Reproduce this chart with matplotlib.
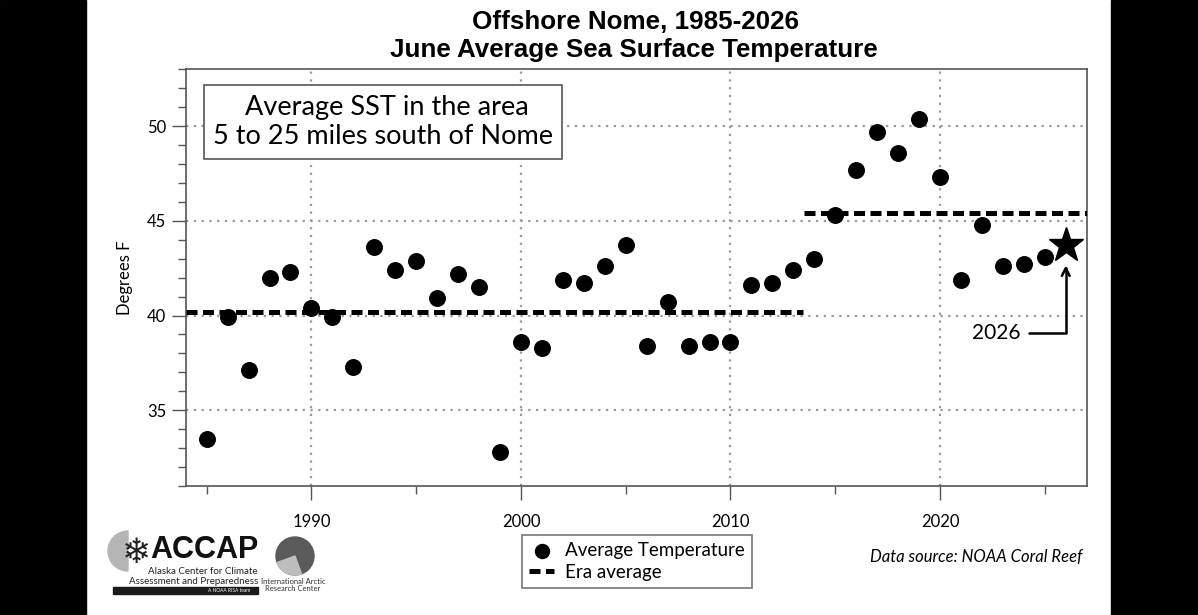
import matplotlib
matplotlib.use("Agg")
import matplotlib.pyplot as plt
from matplotlib.patches import Rectangle, Circle, Wedge
from matplotlib.transforms import IdentityTransform
from matplotlib.ticker import MultipleLocator

# June average SST offshore Nome (deg F)
years = list(range(1985, 2026))
sst = [33.5, 39.9, 37.1, 42.0, 42.3, 40.4, 39.9, 37.3, 43.6, 42.4,
       42.9, 40.9, 42.2, 41.5, 32.8, 38.6, 38.3, 41.9, 41.7, 42.6,
       43.7, 38.4, 40.7, 38.4, 38.6, 38.6, 41.6, 41.7, 42.4, 43.0,
       45.3, 47.7, 49.7, 48.6, 50.4, 47.3, 41.9, 44.8, 42.6, 42.7,
       43.1]
year_2026 = 2026
sst_2026 = 43.7

# era averages (start, end, mean)
era_start = [1984, 2013.5]
era_end = [2013.45, 2027]
era_mean = [40.18, 45.40]

W, H = 1198, 615
fig = plt.figure(figsize=(W / 100, H / 100), dpi=100)
ax = fig.add_axes([185.7 / W, 1 - 486 / H, (1086.7 - 185.7) / W, (486 - 69.3) / H])

body = "Lato"

ax.scatter(years, sst, s=125, color="black", zorder=4, label="Average Temperature")
for i, (x0, x1, m) in enumerate(zip(era_start, era_end, era_mean)):
    ax.plot([x0, x1], [m, m], color="black", lw=3.6, dashes=(2.2, 1.1), zorder=3,
            solid_capstyle="butt", dash_capstyle="butt",
            label="Era average" if i == 0 else None)
ax.plot([year_2026], [sst_2026], marker="*", ms=26, color="black", zorder=5, clip_on=False)

ax.annotate("2026", xy=(year_2026, sst_2026 - 1.05), xytext=(2023.85, 39.1),
            ha="right", va="center", fontsize=15, family=body,
            arrowprops=dict(arrowstyle="->", color="black", lw=1.8, shrinkA=4, shrinkB=0,
                            connectionstyle="angle,angleA=0,angleB=90,rad=0",
                            mutation_scale=14))

ax.set_xlim(1984, 2027)
ax.set_ylim(31, 53)
ax.xaxis.set_major_locator(MultipleLocator(10))
ax.xaxis.set_minor_locator(MultipleLocator(5))
ax.yaxis.set_major_locator(MultipleLocator(5))
ax.yaxis.set_minor_locator(MultipleLocator(1))
ax.tick_params(which="major", length=10, width=1, color="#555555", labelsize=12, pad=4)
ax.tick_params(which="minor", length=6, width=1, color="#555555")
ax.tick_params(axis="x", pad=10)
for lab in ax.get_xticklabels() + ax.get_yticklabels():
    lab.set_family(body)
ax.grid(which="major", color="#999999", ls=(0, (1, 2.5)), lw=1.6, zorder=0)
for s in ax.spines.values():
    s.set_color("#555555")
    s.set_linewidth(1.2)

ax.set_ylabel("Degrees F", fontsize=12, family=body, labelpad=10)

# description box
ax.text(383 / W, 1 - 122 / H, " Average SST in the area\n5 to 25 miles south of Nome",
        transform=fig.transFigure, ha="center", va="center", fontsize=19.5, family=body,
        linespacing=1.25, zorder=6,
        bbox=dict(boxstyle="square,pad=0.35", fc="white", ec="#555555", lw=1.2))

# titles
fig.text(636 / W, 1 - 22 / H, "Offshore Nome, 1985-2026", ha="center", va="center",
         fontsize=18.7, weight="bold", family="Liberation Sans")
fig.text(634 / W, 1 - 50 / H, "June Average Sea Surface Temperature", ha="center", va="center",
         fontsize=18.7, weight="bold", family="Liberation Sans")

leg = fig.legend(loc="center", bbox_to_anchor=(637 / W, 1 - 561.5 / H),
                 prop={"family": body, "size": 13.5}, frameon=True, fancybox=False,
                 handlelength=1.3, handletextpad=0.6, borderpad=0.4, labelspacing=0.25,
                 markerscale=0.9)
leg.get_frame().set_edgecolor("#555555")
leg.get_frame().set_linewidth(1.2)

fig.text(976 / W, 1 - 557 / H, "Data source: NOAA Coral Reef", ha="center", va="center",
         fontsize=12, style="italic", family=body)

# ACCAP / IARC logos, drawn roughly (pixel coordinates, origin bottom-left)
px = IdentityTransform()
fig.patches.append(Wedge((128, H - 551), 20, 90, 270, color="#b5b5b5",
                         transform=px, figure=fig))
fig.text(136 / W, 1 - 553 / H, "\u2744", ha="center", va="center", fontsize=25,
         color="#222222", family="DejaVu Sans")
fig.text(204 / W, 1 - 550 / H, "ACCAP", ha="center", va="center", fontsize=22,
         weight="bold", family="Liberation Sans", color="#111111")
fig.text(258 / W, 1 - 571 / H, "Alaska Center for Climate", ha="right", va="center",
         fontsize=7, family=body, color="#222222")
fig.text(258 / W, 1 - 581 / H, "Assessment and Preparedness", ha="right", va="center",
         fontsize=7, family=body, color="#222222")
fig.patches.append(Rectangle((113, H - 594), 145, 7, color="#1a1a1a",
                             transform=px, figure=fig))
fig.text(250 / W, 1 - 590.5 / H, "A NOAA RISA team", ha="right", va="center",
         fontsize=3.5, family=body, color="white")
fig.patches.append(Circle((295, H - 556), 19, color="#5a5a5a",
                          transform=px, figure=fig))
fig.patches.append(Wedge((295, H - 556), 19, 200, 290, color="#bdbdbd",
                         transform=px, figure=fig))
fig.text(293 / W, 1 - 585 / H, "International Arctic\nResearch Center", ha="center",
         va="center", fontsize=5.5, family=body, color="#333333", linespacing=1.15)

# black side strips
fig.patches.append(Rectangle((0, 0), 86 / W, 1, color="black",
                             transform=fig.transFigure, figure=fig))
fig.patches.append(Rectangle((1111 / W, 0), (W - 1111) / W, 1, color="black",
                             transform=fig.transFigure, figure=fig))

fig.savefig("out.png", dpi=100)
